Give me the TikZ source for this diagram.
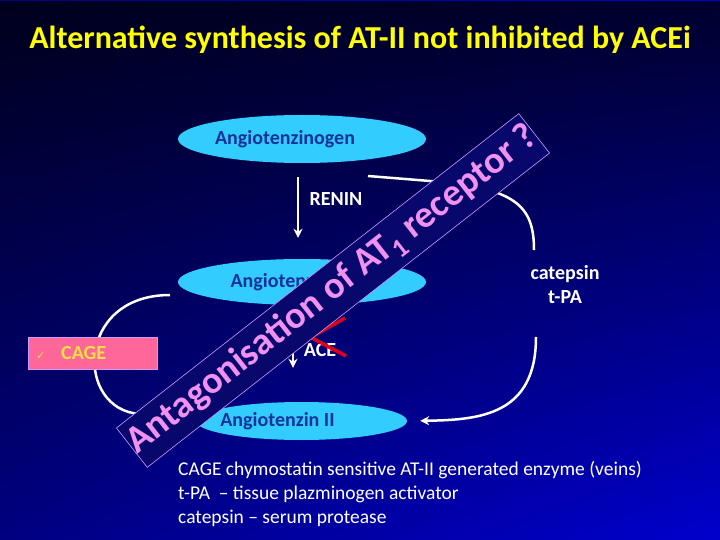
\documentclass[tikz,border=0pt]{standalone}
\usepackage{fontspec}
\setmainfont{Carlito}
\newfontfamily\symfont{DejaVu Sans}
\usetikzlibrary{arrows.meta,positioning,shapes.geometric,fadings}
\definecolor{slideblue}{HTML}{0000F4}
\definecolor{angcyan}{HTML}{33CCFF}
\definecolor{angtext}{HTML}{12329A}
\definecolor{titleyellow}{HTML}{FFFF00}
\definecolor{bannerfill}{HTML}{08086C}
\definecolor{bannerline}{HTML}{CC99FF}
\definecolor{bannertext}{HTML}{F090F0}
\definecolor{cagepink}{HTML}{FF6699}
\definecolor{cagetext}{HTML}{FFE040}
\definecolor{aceRed}{HTML}{E00018}
\pgfdeclarehorizontalshading{slidebg}{100bp}{color(0bp)=(black); color(20bp)=(slideblue!50!black); color(100bp)=(slideblue)}
\tikzfading[name=fadedown, top color=transparent!0, bottom color=transparent!100]

\tikzset{
  ang/.style={ellipse,fill=angcyan,inner sep=0pt},
  angtxt/.style={text=angtext,font=\fontsize{20}{24}\selectfont\bfseries},
  lbl/.style={text=white,font=\fontsize{20}{24}\selectfont\bfseries,align=center},
  flow/.style={white,line width=2.5pt},
  tip/.style={-{Stealth[length=9pt,width=9pt]}}
}

\begin{document}
\begin{tikzpicture}[x=1pt,y=-1pt]
% background
\shade[shading=slidebg] (0,0) rectangle (720,540);
\fill[black,path fading=fadedown,fill opacity=0.78] (0,0) rectangle (720,540);
\useasboundingbox (0,0) rectangle (720,540);

\node[text=titleyellow,font=\fontsize{32}{38}\selectfont\bfseries] (title) at (360,40)
  {Alternative synthesis of AT-II not inhibited by ACEi};

% the three stages
\node[ang,minimum width=248pt,minimum height=48pt,
  label={[angtxt,xshift=-17pt]center:Angiotenzinogen}] (ang1) at (302,139) {};
\node[ang,minimum width=248pt,minimum height=46pt,
  label={[angtxt,xshift=-17pt]center:Angiotenzin I}] (ang2) at (302,282) {};
\node[ang,minimum width=211pt,minimum height=38pt,
  label={[angtxt,xshift=-24pt]center:Angiotenzin II}] (ang3) at (301.5,421) {};

\node[lbl] (renin) at (336,199) {RENIN};
\node[lbl] (ace) at (320,350) {ACE};
\node[lbl] (cat) at (565,285) {catepsin\\t-PA};

\draw[flow,tip,shorten <=14pt,shorten >=21pt] ([xshift=-4pt]ang1.south) -- ([xshift=-4pt]ang2.north);
\draw[flow,tip,shorten <=3pt,shorten >=34pt] ([xshift=-9pt]ang2.south) -- ([xshift=-8.5pt]ang3.north);

% ACE crossed out
\draw[aceRed,line width=3.5pt] ([shift={(-8,-12)}]ace.center) -- ([shift={(26,6)}]ace.center);
\draw[aceRed,line width=3.5pt] ([shift={(-5,-15)}]ace.center) -- ([shift={(25,-32)}]ace.center);

% CAGE bypass
\coordinate (cageIn) at (170,295);
\draw[flow] (cageIn) .. controls (75,295) and (75,410) .. (140,414) -- (ang3.west);
\node[fill=cagepink,draw=bannerline,line width=0.6pt,text=cagetext,
  font=\fontsize{20}{24}\selectfont\bfseries,text width=113pt,align=left,
  inner xsep=8pt,minimum height=32pt] (cage) at (92.5,353) {{\symfont\fontsize{11}{14}\selectfont ✓}\hspace{16pt}CAGE};

% catepsin / t-PA bypass
\coordinate (reninOut) at (368,176);
\coordinate (catTop) at (534,250);
\coordinate (catBot) at (536,337);
\draw[flow] (reninOut) -- (430,181) .. controls (515,188) and (534,205) .. (catTop);
\draw[flow,tip,shorten >=13pt] (catBot) .. controls (536,415) and (480,420) .. (ang3.east);

% banner on top
\node[fill=bannerfill,draw=bannerline,line width=0.6pt,rotate=38,
  minimum width=508pt,minimum height=50pt,inner sep=0pt,
  text=bannertext,font=\fontsize{38}{40}\selectfont\bfseries] (antag) at (333,290.5)
  {Antagonisation of AT\textsubscript{1} receptor ?};

\node[anchor=north west,align=left,inner sep=0pt,text=white,
  font=\fontsize{19.5}{24}\selectfont] (notes) at (178,461)
  {CAGE chymostatin sensitive AT-II generated enzyme (veins)\\
   t-PA \ – tissue plazminogen activator\\
   catepsin – serum protease};
\end{tikzpicture}
\end{document}
